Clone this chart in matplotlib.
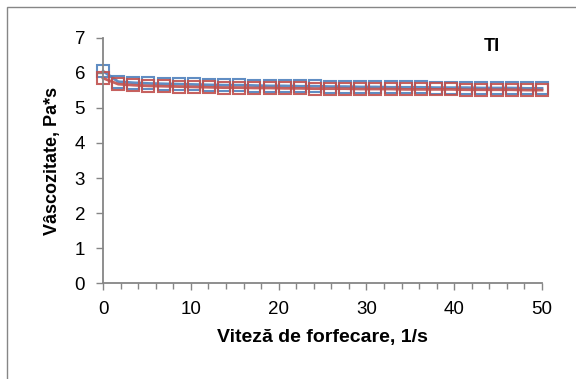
import numpy as np
import matplotlib.pyplot as plt
from matplotlib.patches import Rectangle
from matplotlib.ticker import MultipleLocator

plt.rcParams['font.family'] = ['Liberation Sans', 'DejaVu Sans']

# shear rate, 1/s (30 measuring points 0..50)
shear_rate = [0.0, 1.72, 3.45, 5.17, 6.9, 8.62, 10.34, 12.07, 13.79, 15.52,
              17.24, 18.97, 20.69, 22.41, 24.14, 25.86, 27.59, 29.31, 31.03, 32.76,
              34.48, 36.21, 37.93, 39.66, 41.38, 43.1, 44.83, 46.55, 48.28, 50.0]

visc_1 = [6.05, 5.75, 5.72, 5.70, 5.69, 5.68, 5.67, 5.66, 5.65, 5.65,
          5.64, 5.63, 5.63, 5.62, 5.62, 5.61, 5.61, 5.60, 5.60, 5.59,
          5.59, 5.59, 5.58, 5.58, 5.58, 5.57, 5.57, 5.57, 5.56, 5.56]

visc_2 = [5.85, 5.68, 5.65, 5.63, 5.62, 5.61, 5.60, 5.59, 5.58, 5.58,
          5.57, 5.57, 5.56, 5.56, 5.55, 5.55, 5.55, 5.54, 5.54, 5.54,
          5.53, 5.53, 5.53, 5.53, 5.52, 5.52, 5.52, 5.52, 5.51, 5.51]

sample_label = 'TI'

fig = plt.figure(figsize=(5.76, 3.79), dpi=100)
ax = fig.add_axes([0.179, 0.253, 0.762, 0.647])

ax.plot(shear_rate, visc_1, '-s', color='#4F81BD', lw=2, ms=8,
        mfc='none', mec='#4F81BD', mew=1.5, alpha=0.9, clip_on=False)
ax.plot(shear_rate, visc_2, '-s', color='#C0504D', lw=2, ms=8,
        mfc='none', mec='#C0504D', mew=1.5, alpha=0.9, clip_on=False)

ax.set_xlim(0, 50)
ax.set_ylim(0, 7)
ax.xaxis.set_major_locator(MultipleLocator(10))
ax.xaxis.set_minor_locator(MultipleLocator(2))
ax.yaxis.set_major_locator(MultipleLocator(1))

for side in ['top', 'right']:
    ax.spines[side].set_visible(False)
for side in ['left', 'bottom']:
    ax.spines[side].set_color('#868686')
    ax.spines[side].set_linewidth(1.3)

ax.tick_params(which='major', length=5, color='#868686', width=1, labelsize=13.5)
ax.tick_params(axis='y', pad=8)
ax.tick_params(axis='x', pad=8)
ax.tick_params(which='minor', length=4, color='#868686', width=1)

ax.set_xlabel('Viteză de forfecare, 1/s', fontsize=14, fontweight='bold', labelpad=8)
ax.set_ylabel('Vâscozitate, Pa*s', fontsize=13, fontweight='bold', labelpad=10)

ax.text(44.3, 6.76, sample_label, fontsize=13, fontweight='bold', ha='center', va='center')

# outer chart border (right and bottom edges fall outside the image)
fig.patches.append(Rectangle((7 / 576, -0.05), 1.0, 1.05 - 7 / 379,
                             transform=fig.transFigure, fill=False,
                             edgecolor='#868686', lw=1))

fig.savefig('out.png', dpi=100)
